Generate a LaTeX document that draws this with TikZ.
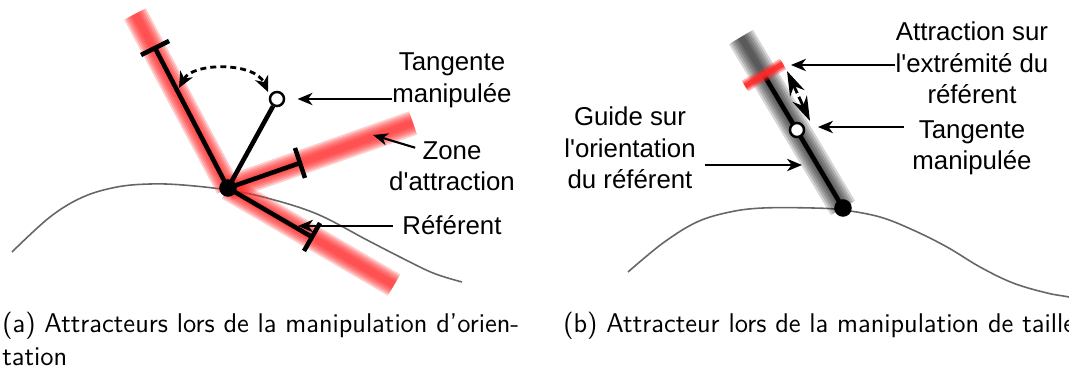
\documentclass[tikz,border=0pt]{standalone}
\usepackage{fontspec}
\newfontfamily\lab{Liberation Sans}
\usetikzlibrary{arrows.meta}
\definecolor{zred}{RGB}{255,40,40}
\tikzset{
 blk/.style={line width=2.6pt, black},
 arr/.style={line width=1.2pt, -{Stealth[length=8.5pt,width=7pt,inset=2.6pt]}},
 darr/.style={line width=1.6pt, dash pattern=on 3.4pt off 2.3pt, {Stealth[length=9pt,width=8pt,inset=2.8pt]}-{Stealth[length=9pt,width=8pt,inset=2.8pt]}},
 curv/.style={line width=0.9pt, black!60},
 lbl/.style={font=\lab\fontsize{14.7}{18}\selectfont, align=center, inner sep=0},
 captxt/.style={font=\sffamily\fontsize{15.4}{19}\selectfont, anchor=base west, inner sep=0},
 pivot/.style={circle, fill=black, minimum size=10pt, inner sep=0},
 handle/.style={circle, draw=black, fill=white, line width=1.4pt, minimum size=8pt, inner sep=0},
}
\newcommand\redband[2]{%
 \foreach \w in {14,12,10,8,6,4} {\draw[line width=\w pt, zred, opacity=0.24] (#1) -- (#2);}}
\newcommand\grayband[2]{%
 \foreach \w in {16,13.5,11,8.5,6,3.5} {\draw[line width=\w pt, black, opacity=0.16] (#1) -- (#2);}}
\begin{document}
\begin{tikzpicture}[x=0.02cm,y=-0.02cm]
\useasboundingbox (0,0) rectangle (1069,371);
% ---------------- panel (a) ----------------
\draw[curv] plot[smooth, tension=0.6] coordinates {(12,252) (50,217) (83,197) (117,187) (150,184) (183,185) (228,190) (267,198) (317,214) (367,240) (400,257) (433,273) (462,282)};
\coordinate (P) at (228,188);
\coordinate (RUL) at (135,14);
\coordinate (RLR) at (394,285);
\coordinate (RR) at (413,123);
\redband{P}{RUL}
\redband{P}{RLR}
\redband{P}{RR}
\coordinate (UL) at (155,48);
\coordinate (ULa) at (141,55);
\coordinate (ULb) at (169,41);
\coordinate (RF) at (312,237);
\coordinate (RFa) at (304,251);
\coordinate (RFb) at (320,223);
\coordinate (AR) at (300,163);
\coordinate (ARa) at (295,148);
\coordinate (ARb) at (305,178);
\draw[blk] (P) -- (UL) (ULa) -- (ULb);
\draw[blk] (P) -- (RF) (RFa) -- (RFb);
\draw[blk] (P) -- (AR) (ARa) -- (ARb);
\node[handle] (c1) at (277,99) {};
\draw[blk] (P) -- (c1);
\node[pivot] (p1) at (P) {};
\coordinate (da) at (179,88);
\coordinate (db) at (268,92);
\draw[darr] (da) .. controls (193,62) and (255,62) .. (db);
\node[lbl] (t1) at (452,80) {Tangente\\manipulée};
\draw[arr] (t1.west |- c1) -- ([xshift=7]c1.east);
\node[lbl, anchor=base] (z1) at (452,160) {Zone};
\node[lbl, anchor=base] (z2) at (452,191) {d\textquotesingle attraction};
\coordinate (zt) at (373,135);
\draw[arr] ([xshift=-4,yshift=2]z1.west) -- (zt);
\node[lbl, anchor=base] (r1) at (452,235) {Référent};
\coordinate (rt) at (298,226);
\draw[arr] ([xshift=-5]r1.west |- rt) -- (rt);
% ---------------- panel (b) ----------------
\draw[curv] plot[smooth, tension=0.6] coordinates {(628,272) (663,243) (697,222) (730,212) (763,208) (813,208) (843,210) (880,217) (913,230) (947,247) (980,267) (1013,283) (1047,293) (1069,297) (1090,302)};
\coordinate (D) at (843,208);
\coordinate (G) at (741,37);
\grayband{D}{G}
\coordinate (E) at (764,75);
\draw[blk] (D) -- (E);
\coordinate (Ea) at (745,86);
\coordinate (Eb) at (783,64);
\foreach \w/\o in {7/0.35,5/0.5,3/0.8} {\draw[line width=\w pt, zred, opacity=\o] (Ea) -- (Eb);}
\node[handle] (c2) at (797,130) {};
\node[pivot] (p2) at (D) {};
\coordinate (sa) at (787,71);
\coordinate (sb) at (810,121);
\draw[line width=1.6pt, {Stealth[length=14pt,width=9pt]}-{Stealth[length=14pt,width=9pt]}] (sa) -- (sb);
\node[circle, fill=white, minimum size=2.4pt, inner sep=0] (sm) at (798,95) {};
\node[lbl] (a2) at (972,63) {Attraction sur\\l\textquotesingle extrémité du\\référent};
\coordinate (at) at (791,65);
\draw[arr] (a2.west |- at) -- (at);
\node[lbl, anchor=base] (t2a) at (972,139) {Tangente};
\node[lbl, anchor=base] (t2b) at (972,170) {manipulée};
\coordinate (tt) at (818,127);
\draw[arr] ([xshift=-8]t2a.west |- tt) -- (tt);
\node[lbl] (g1) at (630,148) {Guide sur\\l\textquotesingle orientation\\du référent};
\coordinate (gt) at (802,165);
\draw[arr] ([xshift=5]g1.east |- gt) -- (gt);
% ---------------- captions ----------------
\node[captxt] (capa) at (2,333) {(a) Attracteurs lors de la manipulation d'orien-};
\node[captxt] (capa2) at (2,366) {tation};
\node[captxt] (capb) at (563,333) {(b) Attracteur lors de la manipulation de taille};
\end{tikzpicture}
\end{document}
